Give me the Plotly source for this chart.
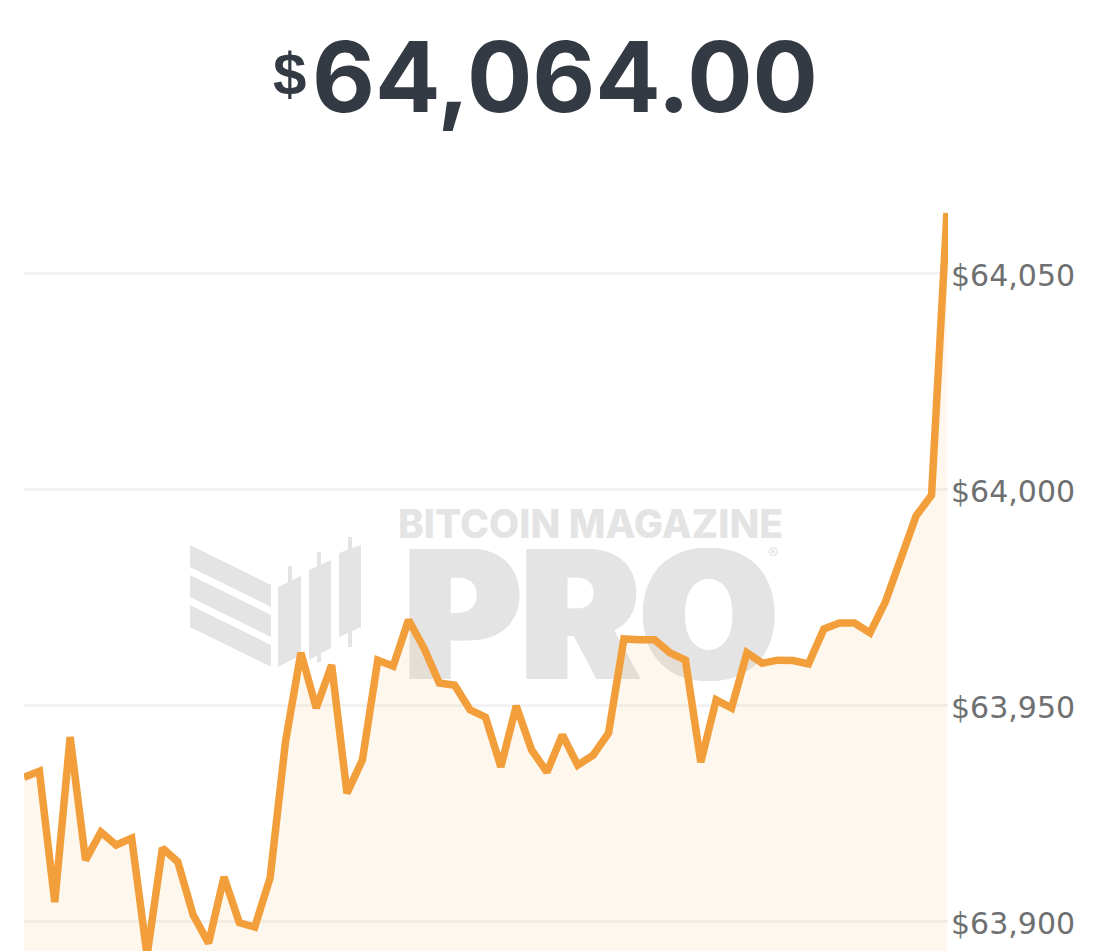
"""Bitcoin price sparkline card with a Bitcoin Magazine Pro watermark."""

import plotly.graph_objects as go

WIDTH = 1094
HEIGHT = 951
PLOT_LEFT = 24
PLOT_RIGHT = 948

prices = [
    63933.4, 63934.8, 63904.5, 63942.7, 63914.2, 63920.7, 63917.7, 63919.3, 63892.2, 63917.0,
    63913.8, 63901.5, 63895.0, 63910.3, 63899.7, 63898.7, 63910.1, 63941.6, 63962.2, 63949.4,
    63959.4, 63929.7, 63937.4, 63960.5, 63959.1, 63969.8, 63963.3, 63955.2, 63954.7, 63949.0,
    63947.3, 63935.8, 63949.9, 63939.7, 63934.6, 63943.2, 63936.2, 63938.5, 63943.6, 63965.4,
    63965.2, 63965.2, 63962.2, 63960.5, 63936.9, 63951.3, 63949.4, 63962.2, 63959.8, 63960.5,
    63960.4, 63959.6, 63967.7, 63969.1, 63969.1, 63966.8, 63974.0, 63984.1, 63993.9, 63998.7,
    64064.0,
]
steps = list(range(len(prices)))
tick_values = [63900, 63950, 64000, 64050]
tick_labels = ["$63,900", "$63,950", "$64,000", "$64,050"]
headline_currency = "$"
headline_value = "64,064.00"

LINE_COLOR = "#F29E3A"
FILL_COLOR = "rgba(242,158,58,0.085)"
GRID_COLOR = "#F3F3F3"
LABEL_COLOR = "#6F7072"
INK_COLOR = "#343A44"
MARK_COLOR = "#E4E4E4"


def px(x):
    return (x - PLOT_LEFT) / (PLOT_RIGHT - PLOT_LEFT)


def py(y):
    return 1 - y / HEIGHT


def poly(points):
    """SVG path in paper coordinates from page pixel corners."""
    parts = [f"{px(x):.5f},{py(y):.5f}" for x, y in points]
    return "M" + " L".join(parts) + " Z"


def thicken(offset):
    """Text shadow that fattens the wordmark sideways."""
    return ",".join(f"{dx}px 0 0 {MARK_COLOR}" for dx in (-offset, offset))


def watermark_shapes():
    corners = [
        # chevron bands
        [(190, 545), (271, 585), (271, 607), (190, 567)],
        [(190, 575), (271, 615), (271, 637), (190, 597)],
        [(190, 605), (271, 645), (271, 667), (190, 627)],
        # candles
        [(278, 587), (301, 576), (301, 655), (278, 667)],
        [(309, 570), (331, 560), (331, 648), (309, 660)],
        [(339, 553), (361, 545), (361, 627), (339, 637)],
        # wicks
        [(288, 566), (292, 566), (292, 585), (288, 585)],
        [(317, 552), (321, 552), (321, 570), (317, 570)],
        [(317, 650), (321, 650), (321, 662), (317, 662)],
        [(348, 537), (352, 537), (352, 552), (348, 552)],
        [(348, 630), (352, 630), (352, 647), (348, 647)],
    ]
    shapes = [
        dict(type="path", path=poly(c), xref="paper", yref="paper",
             fillcolor=MARK_COLOR, line_width=0, layer="below")
        for c in corners
    ]

    # wordmark, kept under the area fill
    words = [
        ("BITCOIN MAGAZINE", 399, 782, 505, 540, 39, 800, 0),
        ("PRO", 392, 790, 537, 679, 178, 900, 3),
        ("®", 763, 783, 543, 563, 16, 400, 0),
    ]
    for text, x0, x1, y0, y1, size, weight, fat in words:
        font = dict(family="Inter", size=size, color=MARK_COLOR, weight=weight)
        if fat:
            font["shadow"] = thicken(fat)
        shapes.append(dict(
            type="rect", xref="paper", yref="paper",
            x0=px(x0), x1=px(x1), y0=py(y0), y1=py(y1),
            line_width=0, fillcolor="rgba(0,0,0,0)", layer="below",
            label=dict(text=text, textposition="middle center", font=font),
        ))
    return shapes


fig = go.Figure()
fig.add_trace(go.Scatter(
    x=steps, y=prices, mode="lines",
    line=dict(color=LINE_COLOR, width=7.5),
    fill="tozeroy", fillcolor=FILL_COLOR,
    hoverinfo="skip", showlegend=False,
))

fig.update_layout(
    width=WIDTH, height=HEIGHT,
    margin=dict(l=PLOT_LEFT, r=WIDTH - PLOT_RIGHT, t=0, b=0),
    paper_bgcolor="white", plot_bgcolor="white",
    shapes=watermark_shapes(),
    annotations=[
        dict(text=f"<b>{headline_value}</b>", xref="paper", yref="paper",
             x=px(565), y=py(77), xanchor="center", yanchor="middle", showarrow=False,
             font=dict(family="Inter", size=97, color=INK_COLOR)),
        dict(text=f"<b>{headline_currency}</b>", xref="paper", yref="paper",
             x=px(289), y=py(75), xanchor="center", yanchor="middle", showarrow=False,
             font=dict(family="Liberation Sans", size=60, color=INK_COLOR)),
    ],
)
fig.update_xaxes(range=[0, 60.07], visible=False)
fig.update_yaxes(
    range=[63893.17, 64113.31], side="right",
    tickvals=tick_values, ticktext=tick_labels,
    tickfont=dict(family="DejaVu Sans", size=30, color=LABEL_COLOR),
    ticks="", ticklabelstandoff=2, ticklabelshift=2,
    showgrid=True, gridcolor=GRID_COLOR, gridwidth=3,
    zeroline=False, showline=False,
)

fig.write_html(
    "out.html",
    config={"displayModeBar": False},
    post_script="document.body.style.margin='0';document.body.style.overflow='hidden';",
)
